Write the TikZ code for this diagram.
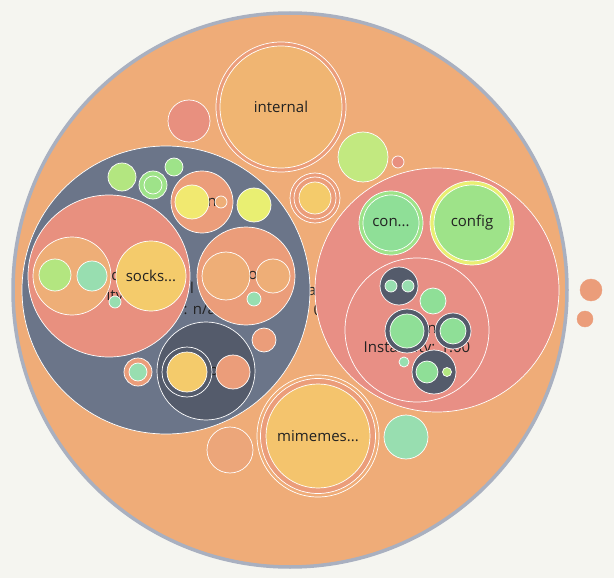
\documentclass[tikz,border=0pt]{standalone}
\usepackage{fontspec}
\setmainfont{Open Sans}
\usepackage{xcolor}
\usepackage{tikz}

\definecolor{bgc}{RGB}{245,245,240}
\definecolor{rootc}{RGB}{239,172,120}
\definecolor{rootring}{RGB}{169,176,192}
\definecolor{slatec}{RGB}{107,117,137}
\definecolor{darkc}{RGB}{84,91,107}
\definecolor{pinkc}{RGB}{232,144,127}
\definecolor{rosec}{RGB}{232,143,133}
\definecolor{orpinkc}{RGB}{235,157,122}
\definecolor{paleorc}{RGB}{236,166,122}
\definecolor{lorangec}{RGB}{238,174,119}
\definecolor{internalc}{RGB}{240,181,114}
\definecolor{sockc}{RGB}{244,203,107}
\definecolor{mimec}{RGB}{244,196,109}
\definecolor{yellowc}{RGB}{241,233,112}
\definecolor{yellowbc}{RGB}{233,239,114}
\definecolor{lgreenc}{RGB}{179,230,128}
\definecolor{limec}{RGB}{194,233,128}
\definecolor{greenc}{RGB}{158,227,137}
\definecolor{greenbc}{RGB}{143,223,151}
\definecolor{tealc}{RGB}{152,222,176}
\definecolor{labelc}{RGB}{34,34,34}

\begin{document}
\begin{tikzpicture}[x=1pt, y=-1pt,
	bub/.style={draw=white, line width=0.7pt},
	lbl/.style={text=labelc, font=\fontsize{15}{18}\selectfont, inner sep=0pt}]
	\fill[bgc] (0,0) rectangle (614,578);
	\useasboundingbox (0,0) rectangle (614,578);
	% root
	\filldraw[draw=rootring, line width=3.5pt, fill=rootc] (290,290) circle (277pt);
	\node[lbl] (roota) at (312,291) {a};
	\node[lbl] (rootval) at (318,310) {0};
	\filldraw[orpinkc] (591,290) circle (11pt);
	\filldraw[orpinkc] (585,319) circle (8pt);
	% top
	\filldraw[bub, fill=orpinkc] (281,107) circle (65pt);
	\filldraw[bub, fill=internalc] (281,107) circle (61pt);
	\node[lbl] (internal) at (281,107) {internal};
	\filldraw[bub, fill=pinkc] (189,121) circle (21pt);
	\filldraw[bub, fill=limec] (363,157) circle (25pt);
	\filldraw[bub, fill=pinkc] (398,162) circle (6pt);
	\filldraw[bub, fill=orpinkc] (315,198) circle (25pt);
	\filldraw[bub, fill=orpinkc] (315,198) circle (21pt);
	\filldraw[bub, fill=sockc] (315,198) circle (16pt);
	% left slate group
	\filldraw[bub, fill=slatec] (166,290) circle (144pt);
	\node[lbl] (slatel) at (192,288) {l};
	\node[lbl] (slateinst) at (166,311) {Instability: n/a};
	\filldraw[bub, fill=pinkc] (109,276) circle (81pt);
	\node[lbl] (pinkk) at (74,275) {k};
	\node[lbl] (pinkic) at (113,275) {ic};
	\node[lbl] (pinkity) at (115,297) {ity};
	\filldraw[bub, fill=lorangec] (72,276) circle (39pt);
	\filldraw[bub, fill=lgreenc] (55,275) circle (16pt);
	\filldraw[bub, fill=tealc] (92,276) circle (15pt);
	\filldraw[bub, fill=tealc] (115,302) circle (6pt);
	\filldraw[bub, fill=sockc] (151,276) circle (35pt);
	\node[lbl] (socks) at (151,276) {socks...};
	\filldraw[bub, fill=orpinkc] (246,276) circle (49pt);
	\node[lbl] (orangeo) at (253,275) {o};
	\filldraw[bub, fill=lorangec] (226,276) circle (24pt);
	\filldraw[bub, fill=lorangec] (273,276) circle (17pt);
	\filldraw[bub, fill=tealc] (254,299) circle (7pt);
	\filldraw[bub, fill=lgreenc] (122,177) circle (14pt);
	\filldraw[bub, fill=greenc] (153,185) circle (14pt);
	\filldraw[bub, fill=greenc] (153,185) circle (9pt);
	\filldraw[bub, fill=greenc] (174,167) circle (9pt);
	\filldraw[bub, fill=orpinkc] (202,202) circle (31pt);
	\node[lbl] (orangen) at (212,202) {n};
	\filldraw[bub, fill=yellowc] (192,202) circle (17pt);
	\filldraw[bub, fill=lorangec] (221,202) circle (6pt);
	\filldraw[bub, fill=yellowbc] (254,205) circle (17pt);
	\filldraw[bub, fill=darkc] (206,371) circle (49pt);
	\node[lbl] (darko) at (214,371) {o};
	\filldraw[bub, fill=darkc] (187,372) circle (25pt);
	\filldraw[bub, fill=sockc] (187,372) circle (20pt);
	\filldraw[bub, fill=orpinkc] (233,372) circle (17pt);
	\filldraw[bub, fill=orpinkc] (264,340) circle (12pt);
	\filldraw[bub, fill=orpinkc] (138,372) circle (14pt);
	\filldraw[bub, fill=tealc] (138,372) circle (9pt);
	% right rose group
	\filldraw[bub, fill=rosec] (437,290) circle (122pt);
	\filldraw[bub, fill=greenc] (391,223) circle (32pt);
	\filldraw[bub, fill=greenbc] (391,223) circle (28pt);
	\node[lbl] (conf) at (391,223) {con...};
	\filldraw[bub, fill=yellowbc] (472,223) circle (42pt);
	\filldraw[bub, fill=greenc] (472,223) circle (38pt);
	\node[lbl] (config) at (472,223) {config};
	\filldraw[bub, fill=rosec] (417,330) circle (72pt);
	\node[lbl] (rosen) at (432,329) {n};
	\node[lbl] (roseinst) at (417,349) {Instability: 1.00};
	\filldraw[bub, fill=darkc] (399,286) circle (19pt);
	\filldraw[bub, fill=tealc] (391,286) circle (6pt);
	\filldraw[bub, fill=tealc] (408,286) circle (6pt);
	\filldraw[bub, fill=greenbc] (433,301) circle (13pt);
	\filldraw[bub, fill=darkc] (407,331) circle (22pt);
	\filldraw[bub, fill=greenbc] (407,331) circle (17pt);
	\filldraw[bub, fill=darkc] (453,331) circle (18pt);
	\filldraw[bub, fill=greenbc] (453,331) circle (13pt);
	\filldraw[bub, fill=tealc] (404,362) circle (5pt);
	\filldraw[bub, fill=darkc] (434,372) circle (22pt);
	\filldraw[bub, fill=greenbc] (427,372) circle (11pt);
	\filldraw[bub, fill=lgreenc] (447,372) circle (4.5pt);
	% bottom
	\filldraw[bub, fill=rootc] (318,436) circle (61pt);
	\filldraw[bub, fill=orpinkc] (318,436) circle (57.5pt);
	\filldraw[bub, fill=mimec] (318,436) circle (52pt);
	\node[lbl] (mimemes) at (318,436) {mimemes...};
	\filldraw[bub, fill=paleorc] (230,450) circle (23pt);
	\filldraw[bub, fill=tealc] (406,437) circle (22pt);
\end{tikzpicture}
\end{document}
